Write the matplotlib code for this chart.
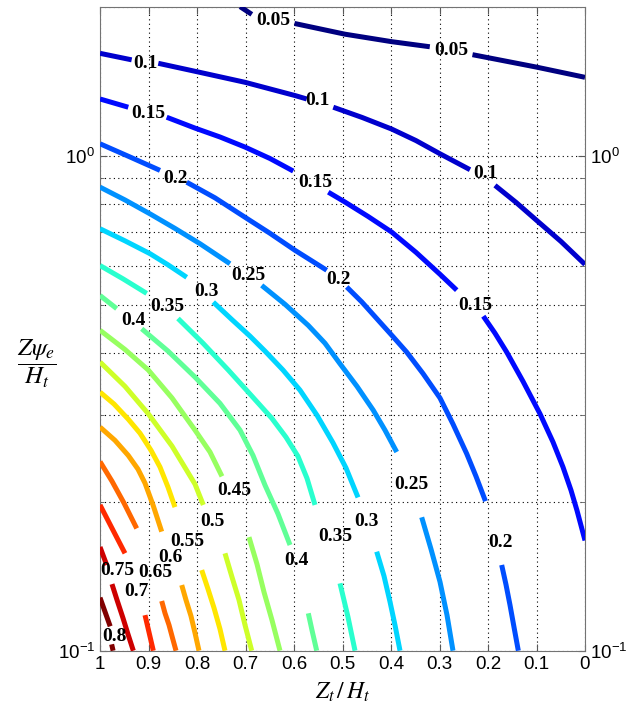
import numpy as np
import matplotlib
matplotlib.use('Agg')
import matplotlib.pyplot as plt
from matplotlib import ticker

plt.rcParams['font.family'] = ['Liberation Sans', 'DejaVu Sans']
plt.rcParams['mathtext.fontset'] = 'custom'
plt.rcParams['mathtext.rm'] = 'Liberation Sans'
plt.rcParams['mathtext.it'] = 'Liberation Sans:italic'
plt.rcParams['mathtext.bf'] = 'Liberation Sans:bold'

nan = np.nan

# contour levels and the traced lines (x = Zt/Ht, y = Z*psi_e/Ht), nan = label gap
levels = [0.05, 0.1, 0.15, 0.2, 0.25, 0.3, 0.35, 0.4,
          0.45, 0.5, 0.55, 0.6, 0.65, 0.7, 0.75, 0.8]

curve_x = [
    [0.711, 0.687, nan, 0.599, 0.495, 0.399, 0.320, nan, 0.232, 0.100, 0.0],
    [1.0, 0.9347, nan, 0.8798, 0.8041, 0.7010, 0.5979, 0.5738, nan, 0.5190, 0.4598, 0.3986, 0.3485,
     0.2990, 0.2371, nan, 0.1856, 0.1423, 0.0996, 0.0495, 0.0],
    [1.0, 0.9417, nan, 0.8625, 0.8041, 0.7526, 0.7010, 0.6495, 0.6015, nan, 0.5293, 0.4948, 0.4474,
     0.3986, 0.3485, 0.2990, 0.2645, nan, 0.2097, 0.1856, 0.1614, 0.1278, 0.0928, 0.0660, 0.0454,
     0.0289, 0.0165, 0.0082, 0.0],
    [1.0, 0.9381, 0.8763, nan, 0.8212, 0.7629, 0.7010, 0.6495, 0.5979, 0.5326, nan, 0.4913, 0.4598,
     0.4262, 0.3959, 0.3676, 0.3340, 0.2990, 0.2722, 0.2439, 0.2247, 0.2052, nan, 0.1718, 0.1629,
     0.1546, 0.1464, 0.1375],
    [1.0, 0.9485, 0.8969, 0.8454, 0.7938, 0.7320, nan, 0.6666, 0.6186, 0.5705, 0.5361, 0.5052, 0.4701,
     0.4365, 0.4124, 0.3882, nan, 0.3367, 0.3175, 0.2990, 0.2845, 0.2722],
    [1.0, 0.9485, 0.8969, 0.8598, 0.8212, nan, 0.7664, 0.7285, 0.6907, 0.6598, 0.6227, 0.5876, 0.5526,
     0.5196, 0.4928, 0.4680, nan, 0.4295, 0.4144, 0.4021, 0.3918, 0.3814],
    [1.0, 0.9526, 0.9037, nan, 0.8392, 0.7876, 0.7355, 0.6907, 0.6460, 0.6165, 0.5918, 0.5732, 0.5567,
     nan, 0.5052, 0.4887, 0.4742],
    [1.0, 0.9656, nan, 0.9140, 0.8598, 0.8041, 0.7526, 0.7113, 0.6845, 0.6598, 0.6330, 0.6082, nan,
     0.5705, 0.5629, 0.5532],
    [1.0, 0.9485, 0.9004, 0.8515, 0.8041, 0.7732, 0.7485, nan, 0.6928, 0.6763, 0.6619, 0.6454, 0.6289],
    [1.0, 0.9485, 0.9004, 0.8515, 0.8227, 0.8041, 0.7870, nan, 0.7423, 0.7278, 0.7134, 0.7010, 0.6872],
    [1.0, 0.9711, 0.9417, 0.9175, 0.8948, 0.8763, 0.8598, 0.8454, nan, 0.7903, 0.7773, 0.7649, 0.7526,
     0.7423],
    [1.0, 0.9691, 0.9417, 0.9216, 0.9072, 0.8907, 0.8728, nan, 0.8315, 0.8227, 0.8124, 0.8041, 0.7959],
    [1.0, 0.9753, 0.9505, 0.9243, nan, 0.8728, 0.8660, 0.8577, 0.8505, 0.8433],
    [1.0, 0.9753, 0.9485, nan, 0.9072, 0.8990, 0.8901],
    [1.0, 0.9862, nan, 0.9753, 0.9649, 0.9526, 0.9423, 0.9313],
    [1.0, 0.979, nan, 0.976, 0.973],
]
curve_y = [
    [2.0, 1.93, nan, 1.85, 1.76, 1.70, 1.66, nan, 1.60, 1.51, 1.44],
    [1.610, 1.562, nan, 1.537, 1.481, 1.407, 1.323, 1.302, nan, 1.253, 1.195, 1.132, 1.073,
     1.009, 0.937, nan, 0.871, 0.805, 0.740, 0.671, 0.603],
    [1.302, 1.253, nan, 1.196, 1.137, 1.091, 1.041, 0.987, 0.931, nan, 0.844, 0.806, 0.754,
     0.701, 0.638, 0.576, 0.535, nan, 0.474, 0.438, 0.401, 0.350, 0.301, 0.264, 0.235,
     0.211, 0.192, 0.179, 0.167],
    [1.057, 0.994, 0.934, nan, 0.884, 0.822, 0.751, 0.697, 0.644, 0.587, nan, 0.543, 0.506,
     0.465, 0.431, 0.401, 0.363, 0.324, 0.287, 0.250, 0.225, 0.2005, nan, 0.149, 0.136,
     0.1236, 0.1116, 0.1],
    [0.864, 0.814, 0.763, 0.713, 0.664, 0.605, nan, 0.547, 0.501, 0.454, 0.418, 0.380, 0.342,
     0.306, 0.279, 0.252, nan, 0.186, 0.1604, 0.1378, 0.118, 0.1],
    [0.712, 0.673, 0.634, 0.602, 0.568, nan, 0.506, 0.467, 0.432, 0.403, 0.369, 0.336, 0.299,
     0.263, 0.234, 0.204, nan, 0.1585, 0.1415, 0.1256, 0.1127, 0.1],
    [0.600, 0.564, 0.527, nan, 0.469, 0.418, 0.369, 0.330, 0.295, 0.270, 0.247, 0.223, 0.197,
     nan, 0.1368, 0.117, 0.1],
    [0.522, 0.491, nan, 0.447, 0.403, 0.357, 0.316, 0.279, 0.248, 0.216, 0.189, 0.1635, nan,
     0.119, 0.110, 0.1],
    [0.444, 0.406, 0.369, 0.324, 0.279, 0.252, 0.225, nan, 0.1696, 0.1496, 0.1314, 0.1153, 0.1],
    [0.383, 0.342, 0.301, 0.259, 0.2326, 0.217, 0.197, nan, 0.1573, 0.1408, 0.1266, 0.1127, 0.1],
    [0.333, 0.315, 0.2935, 0.275, 0.254, 0.235, 0.214, 0.195, nan, 0.1455, 0.1332, 0.122, 0.1106,
     0.1],
    [0.283, 0.266, 0.248, 0.2326, 0.218, 0.197, 0.174, nan, 0.1357, 0.1266, 0.1175, 0.1086, 0.1],
    [0.241, 0.220, 0.1987, 0.1766, nan, 0.126, 0.1191, 0.1127, 0.1061, 0.1],
    [0.197, 0.1768, 0.1573, nan, 0.118, 0.109, 0.1],
    [0.162, 0.149, nan, 0.1363, 0.1266, 0.1164, 0.108, 0.1],
    [0.128, 0.112, nan, 0.103, 0.1],
]

# inline contour labels
lab_text = ['0.05', '0.05', '0.1', '0.1', '0.1', '0.15', '0.15', '0.15',
            '0.2', '0.2', '0.2', '0.25', '0.25', '0.3', '0.3', '0.35', '0.35',
            '0.4', '0.4', '0.45', '0.5', '0.55', '0.6', '0.65', '0.7', '0.75', '0.8']
lab_x = [0.643, 0.275, 0.907, 0.551, 0.206, 0.900, 0.557, 0.227,
         0.845, 0.509, 0.175, 0.694, 0.357, 0.780, 0.450, 0.862, 0.515,
         0.931, 0.594, 0.724, 0.768, 0.819, 0.855, 0.885, 0.924, 0.964, 0.971]
lab_y = [1.875, 1.63, 1.537, 1.293, 0.921, 1.218, 0.884, 0.499,
         0.898, 0.5625, 0.1655, 0.573, 0.217, 0.532, 0.182, 0.496, 0.170,
         0.465, 0.152, 0.211, 0.182, 0.1665, 0.154, 0.144, 0.132, 0.145, 0.107]

xticks = [0, 0.1, 0.2, 0.3, 0.4, 0.5, 0.6, 0.7, 0.8, 0.9, 1]
xtick_labels = ['0', '0.1', '0.2', '0.3', '0.4', '0.5', '0.6', '0.7', '0.8', '0.9', '1']

fig = plt.figure(figsize=(6.28, 7.16), dpi=100)
ax = fig.add_axes([100 / 628, 1 - 650.7 / 716, 485 / 628, 644 / 716])

cmap = plt.get_cmap('jet')
norm = plt.Normalize(levels[0], levels[-1])
for lev, xs, ys in zip(levels, curve_x, curve_y):
    ax.plot(xs, ys, color=cmap(norm(lev)), lw=3.6, solid_capstyle='butt',
            solid_joinstyle='round', zorder=3)

for t, x, y in zip(lab_text, lab_x, lab_y):
    ax.text(x, y, t, ha='center', va='center', fontsize=14,
            family='Liberation Serif', weight='bold', zorder=4)

ax.set_yscale('log')
ax.set_xlim(1, 0)
ax.set_ylim(0.1, 2.0)
ax.set_xticks(xticks)
ax.set_xticklabels(xtick_labels)
ax.yaxis.set_major_locator(ticker.LogLocator(base=10, numticks=5))
ax.yaxis.set_minor_locator(ticker.LogLocator(base=10, subs=np.arange(2, 10), numticks=20))
ax.yaxis.set_minor_formatter(ticker.NullFormatter())

ax.grid(True, which='both', color='k', linestyle=(0, (1, 3)), lw=0.8)
ax.tick_params(which='both', direction='in', top=True, right=True,
               labelright=True, colors='0.35', labelcolor='k', labelsize=13.5)
ax.tick_params(which='major', length=5)
ax.tick_params(which='minor', length=3)
for s in ax.spines.values():
    s.set_color('0.45')

ax.set_xlabel(r'$Z_t\,/\,H_t$', fontsize=17, math_fontfamily='stix', labelpad=6)
fig.text(37 / 628, 1 - 364 / 716, r'$\dfrac{Z\psi_e}{H_t}$', fontsize=18,
         math_fontfamily='stix', ha='center', va='center')

fig.savefig('out.png', dpi=100)
